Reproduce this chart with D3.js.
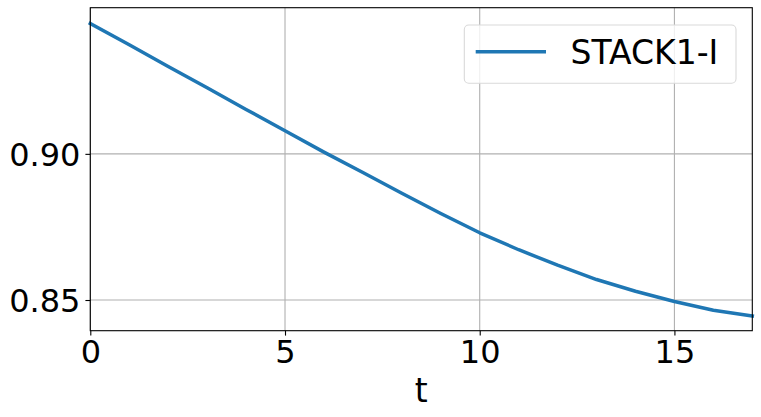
<!DOCTYPE html>
<html>
<head>
<meta charset="utf-8">
<script src="https://cdn.jsdelivr.net/npm/d3@7"></script>
<style>
  body { margin: 0; background: #fff; }
  text { font-family: "DejaVu Sans", sans-serif; fill: #000; }
</style>
</head>
<body>
<div id="chart"></div>
<script>
// data
var tValues = [0, 1, 2, 3, 4, 5, 6, 7, 8, 9, 10, 11, 12, 13, 14, 15, 16, 17];
var stack1I = [0.9446, 0.9373, 0.9299, 0.9226, 0.9152, 0.9079, 0.9006, 0.8936, 0.8865,
               0.8796, 0.8730, 0.8672, 0.8619, 0.8570, 0.8530, 0.8495, 0.8465, 0.8445];
var xTicks = [0, 5, 10, 15];
var yTicks = [0.85, 0.90];
var seriesName = "STACK1-I";

var width = 761, height = 417;
var margin = {left: 90.3, right: 8.7, top: 7.7, bottom: 86.3};

var svg = d3.select("#chart").append("svg")
    .attr("width", width)
    .attr("height", height);

var x = d3.scaleLinear().domain([0, 17]).range([margin.left, width - margin.right]);
var y = d3.scaleLinear().domain([0.8395, 0.95]).range([height - margin.bottom, margin.top]);

// grid
svg.append("g").selectAll("line.gx")
    .data(xTicks).enter().append("line")
    .attr("x1", function(d) { return x(d); })
    .attr("x2", function(d) { return x(d); })
    .attr("y1", y.range()[0]).attr("y2", y.range()[1])
    .attr("stroke", "#b0b0b0").attr("stroke-width", 1.1);
svg.append("g").selectAll("line.gy")
    .data(yTicks).enter().append("line")
    .attr("y1", function(d) { return y(d); })
    .attr("y2", function(d) { return y(d); })
    .attr("x1", x.range()[0]).attr("x2", x.range()[1])
    .attr("stroke", "#b0b0b0").attr("stroke-width", 1.1);

// the line
var line = d3.line()
    .x(function(d, i) { return x(tValues[i]); })
    .y(function(d) { return y(d); });

svg.append("path")
    .datum(stack1I)
    .attr("d", line)
    .attr("fill", "none")
    .attr("stroke", "#1f77b4")
    .attr("stroke-width", 3.5)
    .attr("stroke-linejoin", "round")
    .attr("stroke-linecap", "square");

// axes
var xAxis = svg.append("g")
    .attr("transform", "translate(0," + y.range()[0] + ")")
    .call(d3.axisBottom(x).tickValues(xTicks).tickFormat(d3.format("d")).tickSizeOuter(0).tickSize(4.9).tickPadding(5));
var yAxis = svg.append("g")
    .attr("transform", "translate(" + x.range()[0] + ",0)")
    .call(d3.axisLeft(y).tickValues(yTicks).tickFormat(d3.format(".2f")).tickSizeOuter(0).tickSize(4.9).tickPadding(5));

[xAxis, yAxis].forEach(function(a) {
  a.select(".domain").remove();
  a.selectAll("line").attr("stroke", "#000").attr("stroke-width", 1.1);
  a.selectAll("text").style("font-size", "32px").style("font-family", "DejaVu Sans, sans-serif").attr("fill", "#000");
});
yAxis.selectAll("text").attr("dy", "0.36em");

// frame
svg.append("rect")
    .attr("x", x.range()[0]).attr("y", y.range()[1])
    .attr("width", x.range()[1] - x.range()[0])
    .attr("height", y.range()[0] - y.range()[1])
    .attr("fill", "none").attr("stroke", "#000").attr("stroke-width", 1.1);

// x label
svg.append("text")
    .attr("x", (x.range()[0] + x.range()[1]) / 2)
    .attr("y", 401.5)
    .attr("text-anchor", "middle")
    .style("font-size", "33px")
    .text("t");

// legend
var legend = svg.append("g");
legend.append("rect")
    .attr("x", 464.3).attr("y", 25)
    .attr("width", 271.7).attr("height", 58.3)
    .attr("rx", 4.5)
    .attr("fill", "#fff").attr("fill-opacity", 0.8)
    .attr("stroke", "#d9d9d9").attr("stroke-width", 1.1);
legend.append("line")
    .attr("x1", 475.7).attr("x2", 546)
    .attr("y1", 51.7).attr("y2", 51.7)
    .attr("stroke", "#1f77b4").attr("stroke-width", 3.5);
legend.append("text")
    .attr("x", 570.5).attr("y", 64)
    .style("font-size", "33px")
    .text(seriesName);
</script>
</body>
</html>
